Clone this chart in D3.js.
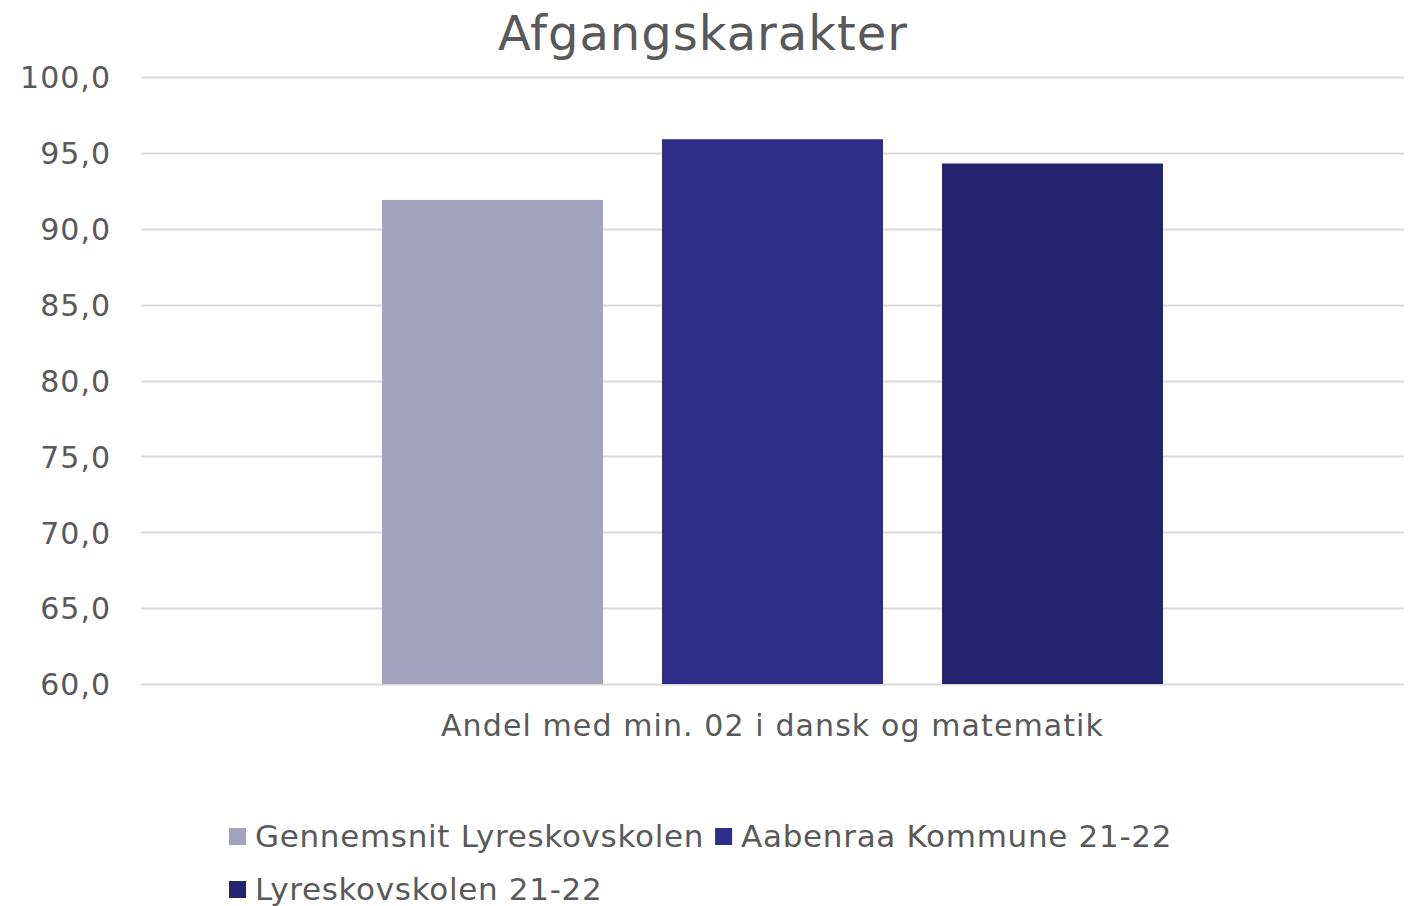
<!DOCTYPE html>
<html>
<head>
<meta charset="utf-8">
<script src="https://cdn.jsdelivr.net/npm/d3@7"></script>
<style>
  body { margin: 0; background: #fff; }
  text { font-family: "DejaVu Sans", Verdana, sans-serif; fill: #595959; }
</style>
</head>
<body>
<div class="chart"></div>
<script>
// data
const categories = ["Andel med min. 02 i dansk og matematik"];
const seriesNames = ["Gennemsnit Lyreskovskolen", "Aabenraa Kommune 21-22", "Lyreskovskolen 21-22"];
const seriesValues = [91.9, 95.9, 94.3];
const colors = ["#A3A3C0", "#2E2E88", "#232370"];
const yTicks = [60, 65, 70, 75, 80, 85, 90, 95, 100];

const W = 1412, H = 906;
const margin = {top: 77, left: 141, right: 8, bottom: 222};
const width = W - margin.left - margin.right;
const height = H - margin.top - margin.bottom;

const svg = d3.select('.chart')
  .append('svg')
  .attr('width', W)
  .attr('height', H)

const g = svg.append('g')
  .attr('transform', 'translate(' + margin.left + ',' + margin.top + ')')

// scales
const xScale = d3.scaleBand()
  .domain(categories)
  .range([0, width])
  .padding(0);

const sScale = d3.scaleBand()
  .domain(seriesNames)
  .range([241, 241 + 781])
  .paddingInner(59 / 280)
  .paddingOuter(0);

const yScale = d3.scaleLinear()
  .domain([60, 100])
  .range([height, 0]);

// gridlines
g.append('g')
  .selectAll('line')
  .data(yTicks)
  .enter()
  .append('line')
  .attr('x1', 0)
  .attr('x2', width)
  .attr('y1', d => Math.round(yScale(d)) + 0.5)
  .attr('y2', d => Math.round(yScale(d)) + 0.5)
  .attr('stroke', '#d9d9d9')
  .attr('stroke-width', 2)

// y axis
const yAxis = d3.axisLeft(yScale)
  .tickValues(yTicks)
  .tickSize(0)
  .tickPadding(30)
  .tickFormat(d => d3.format('.1f')(d).replace('.', ','));

const yAxisContainer = g.append('g')
  .attr('class', 'axis y-axis')
  .call(yAxis)
yAxisContainer.select('.domain').remove();
yAxisContainer.selectAll('text')
  .style('font-size', '30px')
  .style('letter-spacing', '1px')
  .attr('fill', '#595959')
  .attr('dy', '0.36em')

// bars
g.selectAll('.bar')
  .data(seriesValues)
  .enter()
  .append('rect')
  .attr('class', 'bar')
  .attr('x', (d, i) => xScale(categories[0]) + sScale(seriesNames[i]))
  .attr('y', d => yScale(d))
  .attr('width', sScale.bandwidth())
  .attr('height', d => height - yScale(d))
  .attr('fill', (d, i) => colors[i])

// x axis label
const xAxis = d3.axisBottom(xScale).tickSize(0).tickPadding(31);
const xAxisContainer = g.append('g')
  .attr('transform', `translate(0, ${height})`)
  .call(xAxis)
xAxisContainer.select('.domain').remove();
xAxisContainer.selectAll('text')
  .style('font-size', '30px')
  .style('letter-spacing', '1.1px')
  .attr('fill', '#595959')
  .attr('x', 631.5 - width / 2)

// title
svg.append('text')
  .attr('x', 703)
  .attr('y', 50)
  .attr('text-anchor', 'middle')
  .style('font-size', '48px')
  .style('letter-spacing', '1px')
  .text('Afgangskarakter')

// legend
const legend = svg.selectAll('.legend')
  .data(seriesNames)
  .enter()
  .append('g')
  .attr('class', 'legend')

legend.append('rect')
  .attr('x', 0)
  .attr('y', -8)
  .attr('width', 17)
  .attr('height', 17)
  .attr('fill', (d, i) => colors[i])

legend.append('text')
  .attr('x', 26)
  .attr('y', 0)
  .attr('dy', '0.36em')
  .style('font-size', '31px')
  .style('letter-spacing', '0.7px')
  .text(d => d)

// place legend items in rows
let lx = 229, ly = 836;
legend.each(function(d, i) {
  const tw = d3.select(this).select('text').node().getComputedTextLength();
  if (i === 2) { lx = 229; ly = 889; }
  d3.select(this).attr('transform', `translate(${lx}, ${ly})`);
  lx += 26 + tw + 11;
});
</script>
</body>
</html>
